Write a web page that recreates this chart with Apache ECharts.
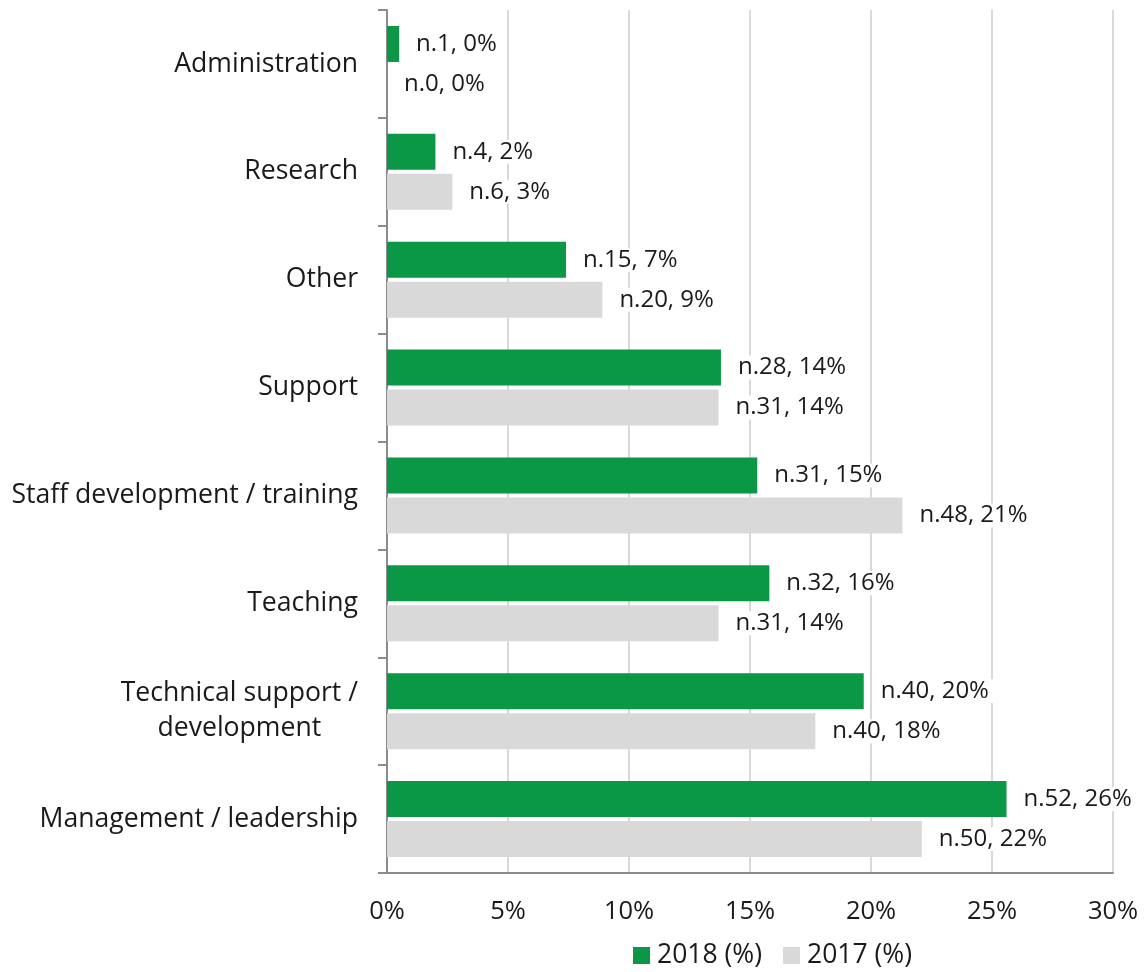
<!DOCTYPE html>
<html>
<head>
<meta charset="utf-8">
<title>Roles 2018 vs 2017</title>
<script src="https://cdn.jsdelivr.net/npm/echarts@6.0.0/dist/echarts.min.js"></script>
<style>
    html, body { margin: 0; padding: 0; background: #fff; }
    #grafico { width: 1146px; height: 972px; }
</style>
</head>
<body>
<div id="grafico"></div>
<script>
// categorias de cima para baixo
var categorias = ['Administration', 'Research', 'Other', 'Support',
    'Staff development / training', 'Teaching',
    'Technical support /\ndevelopment', 'Management / leadership'];

var valores2018 = [0.5, 2.0, 7.4, 13.8, 15.3, 15.8, 19.7, 25.6];
var valores2017 = [0, 2.7, 8.9, 13.7, 21.3, 13.7, 17.7, 22.1];

var n2018 = [1, 4, 15, 28, 31, 32, 40, 52];
var n2017 = [0, 6, 20, 31, 48, 31, 40, 50];
var pct2018 = [0, 2, 7, 14, 15, 16, 20, 26];
var pct2017 = [0, 3, 9, 14, 21, 14, 18, 22];

var ticksX = [0, 5, 10, 15, 20, 25, 30];

var fonte = 'Open Sans';
var corTexto = '#1a1a1a';

window.addEventListener('load', start);

function start() {
    var myChart = echarts.init(document.getElementById('grafico'));

    function rotulo(ns, pcts) {
        return {
            show: true,
            position: 'right',
            distance: 13,
            fontFamily: fonte,
            fontSize: 24,
            color: corTexto,
            backgroundColor: '#fff',
            padding: [0, 4],
            formatter: function (p) {
                return 'n.' + ns[p.dataIndex] + ', ' + pcts[p.dataIndex] + '%';
            }
        };
    }

    var option = {
        animation: false,
        grid: { left: 387, right: 33, top: 10, bottom: 99, containLabel: false },
        legend: {
            left: 628,
            top: 937,
            itemWidth: 17,
            itemHeight: 17,
            itemGap: 21,
            icon: 'rect',
            textStyle: { fontFamily: fonte, fontSize: 26.5, color: corTexto, padding: [0, 0, 0, 2] },
            data: ['2018 (%)', '2017 (%)']
        },
        xAxis: {
            type: 'value',
            min: ticksX[0],
            max: ticksX[ticksX.length - 1],
            interval: 5,
            axisLine: { show: true, lineStyle: { color: '#8c8c8c', width: 2 } },
            axisTick: { show: false },
            splitLine: { show: true, lineStyle: { color: '#d9d9d9', width: 2 } },
            axisLabel: {
                margin: 26,
                fontFamily: fonte,
                fontSize: 25.5,
                color: corTexto,
                formatter: '{value}%'
            }
        },
        yAxis: {
            type: 'category',
            inverse: true,
            data: categorias,
            axisLine: { lineStyle: { color: '#8c8c8c', width: 2 } },
            axisTick: { show: true, length: 9, lineStyle: { color: '#8c8c8c', width: 2 } },
            axisLabel: {
                margin: 29,
                fontFamily: fonte,
                fontSize: 26.6,
                color: corTexto,
                formatter: function (v) {
                    return v.split('\n').map(function (l) { return '{c|' + l + '}'; }).join('\n');
                },
                rich: {
                    c: { align: 'center', fontFamily: fonte, fontSize: 26.6, color: corTexto, lineHeight: 35 }
                }
            }
        },
        series: [
            {
                name: '2018 (%)',
                type: 'bar',
                data: valores2018,
                barWidth: 36,
                barGap: '11%',
                itemStyle: { color: '#0a9847' },
                label: rotulo(n2018, pct2018)
            },
            {
                name: '2017 (%)',
                type: 'bar',
                data: valores2017,
                barWidth: 36,
                barGap: '11%',
                itemStyle: { color: '#d9d9d9' },
                label: rotulo(n2017, pct2017)
            }
        ]
    };

    myChart.setOption(option);
}
</script>
</body>
</html>
